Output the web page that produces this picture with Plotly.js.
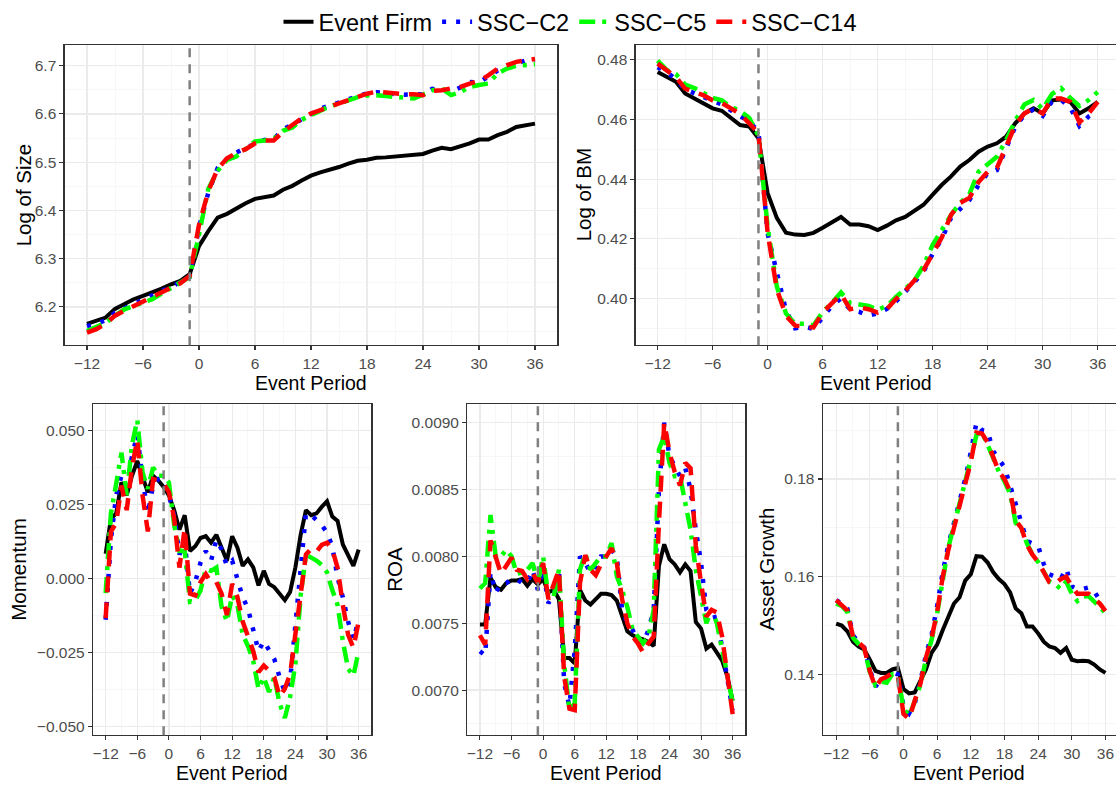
<!DOCTYPE html>
<html>
<head>
<meta charset="utf-8">
<script src="https://cdn.plot.ly/plotly-3.0.1.min.js"></script>
<style>
html,body{margin:0;padding:0;background:#fff;}
#chart{width:1116px;height:785px;}
</style>
</head>
<body>
<div id="chart"></div>
<script>
// ---------------- data ----------------
const eventPeriod = [-12,-11,-10,-9,-8,-7,-6,-5,-4,-3,-2,-1,0,1,2,3,4,5,6,7,8,9,10,11,12,13,14,15,16,17,18,19,20,21,22,23,24,25,26,27,28,29,30,31,32,33,34,35,36];
const xTickVals = [-12,-6,0,6,12,18,24,30,36];
const seriesNames = ["Event Firm","SSC\u2212C2","SSC\u2212C5","SSC\u2212C14"];
const panelTitles = ["Log of Size","Log of BM","Momentum","ROA","Asset Growth"];
const xTitle = "Event Period";

const sizeFirm = [6.165,6.171,6.178,6.196,6.206,6.216,6.223,6.230,6.238,6.247,6.254,6.268,
  6.326,6.357,6.385,6.393,6.405,6.415,6.424,6.428,6.431,6.443,
  6.451,6.462,6.472,6.479,6.484,6.490,6.497,6.503,6.505,6.509,
  6.510,6.512,6.512,6.514,6.517,6.524,6.530,6.527,6.532,6.539,
  6.547,6.547,6.556,6.563,6.573,6.576,6.580];
const sizeC2 = [6.160,6.165,6.172,6.188,6.197,6.206,6.214,6.222,6.232,6.242,6.251,6.262,
  6.365,6.437,6.488,6.507,6.520,6.530,6.537,6.546,6.548,6.568,
  6.578,6.590,6.600,6.611,6.617,6.623,6.630,6.637,6.643,6.645,
  6.642,6.641,6.640,6.640,6.641,6.652,6.650,6.646,6.655,6.666,
  6.665,6.678,6.690,6.697,6.705,6.711,6.712];
const sizeC5 = [6.150,6.158,6.167,6.182,6.195,6.202,6.210,6.216,6.228,6.240,6.250,6.262,
  6.350,6.445,6.482,6.505,6.512,6.528,6.543,6.545,6.548,6.565,
  6.572,6.588,6.598,6.608,6.616,6.621,6.628,6.635,6.638,6.639,
  6.637,6.635,6.634,6.632,6.640,6.649,6.653,6.639,6.645,6.656,
  6.660,6.663,6.684,6.694,6.700,6.702,6.703];
const sizeC14 = [6.147,6.154,6.165,6.182,6.192,6.202,6.211,6.220,6.230,6.240,6.249,6.264,
  6.370,6.440,6.486,6.508,6.519,6.527,6.539,6.545,6.545,6.563,
  6.577,6.591,6.601,6.609,6.615,6.622,6.629,6.637,6.642,6.646,
  6.644,6.642,6.641,6.641,6.639,6.648,6.649,6.653,6.656,6.663,
  6.668,6.680,6.694,6.701,6.708,6.711,6.714];

const bmFirm = [0.4759,0.4742,0.4726,0.4687,0.4670,0.4653,0.4637,0.4629,0.4603,0.4581,0.4576,0.4537,
  0.4353,0.4270,0.4220,0.4214,0.4213,0.4220,0.4237,0.4256,0.4273,0.4248,
  0.4248,0.4242,0.4229,0.4244,0.4262,0.4273,0.4292,0.4314,0.4348,0.4381,
  0.4409,0.4442,0.4464,0.4492,0.4509,0.4520,0.4542,0.4587,0.4620,0.4637,
  0.4620,0.4664,0.4667,0.4659,0.4620,0.4637,0.4659];
const bmC2 = [0.4775,0.4758,0.4735,0.4700,0.4688,0.4675,0.4660,0.4650,0.4630,0.4610,0.4592,0.4560,
  0.4218,0.4087,0.3960,0.3900,0.3905,0.3898,0.3935,0.3975,0.4000,0.3963,
  0.3955,0.3942,0.3950,0.3965,0.3990,0.4020,0.4055,0.4090,0.4150,0.4200,
  0.4270,0.4300,0.4330,0.4380,0.4420,0.4430,0.4500,0.4575,0.4615,0.4633,
  0.4612,0.4660,0.4665,0.4640,0.4578,0.4610,0.4628];
const bmC5 = [0.4797,0.4765,0.4752,0.4717,0.4705,0.4690,0.4672,0.4664,0.4642,0.4628,0.4605,0.4545,
  0.4240,0.4040,0.3950,0.3915,0.3915,0.3910,0.3955,0.3985,0.4020,0.3985,
  0.3980,0.3975,0.3962,0.3975,0.4005,0.4035,0.4060,0.4110,0.4180,0.4230,
  0.4280,0.4320,0.4350,0.4425,0.4450,0.4475,0.4530,0.4595,0.4650,0.4665,
  0.4635,0.4685,0.4705,0.4672,0.4645,0.4665,0.4692];
const bmC14 = [0.4787,0.4764,0.4742,0.4703,0.4692,0.4681,0.4664,0.4655,0.4637,0.4618,0.4587,0.4553,
  0.4220,0.4031,0.3942,0.3909,0.3907,0.3903,0.3953,0.3981,0.4014,0.3964,
  0.3970,0.3964,0.3953,0.3964,0.3998,0.4026,0.4060,0.4095,0.4150,0.4205,
  0.4280,0.4320,0.4337,0.4390,0.4425,0.4437,0.4509,0.4581,0.4620,0.4637,
  0.4620,0.4670,0.4670,0.4659,0.4590,0.4620,0.4659];

const momFirm = [0.0083,0.0202,0.0219,0.0324,0.0280,0.0346,0.0396,0.0340,0.0290,0.0346,0.0330,0.0308,
  0.0280,0.0230,0.0164,0.0213,0.0092,0.0108,0.0136,0.0142,0.0120,0.0147,
  0.0103,0.0059,0.0142,0.0103,0.0042,0.0064,0.0037,-0.0024,0.0025,-0.0019,
  -0.0030,-0.0052,-0.0074,-0.0046,0.0037,0.0147,0.0230,0.0213,0.0219,0.0241,
  0.0260,0.0208,0.0194,0.0114,0.0081,0.0042,0.0097];
const momC2 = [-0.0140,0.0130,0.0280,0.0346,0.0313,0.0413,0.0485,0.0335,0.0219,0.0313,0.0335,0.0335,
  0.0280,0.0213,0.0080,0.0125,-0.0052,-0.0013,0.0053,0.0092,0.0059,0.0130,
  0.0097,0.0042,0.0059,0.0002,-0.0064,-0.0102,-0.0168,-0.0246,-0.0212,-0.0246,
  -0.0273,-0.0334,-0.0384,-0.0345,-0.0168,0.0031,0.0219,0.0213,0.0197,0.0180,
  0.0153,0.0108,0.0002,-0.0064,-0.0146,-0.0207,-0.0140];
const momC5 = [-0.0050,0.0219,0.0319,0.0424,0.0280,0.0451,0.0534,0.0357,0.0302,0.0374,0.0346,0.0346,
  0.0324,0.0180,0.0092,0.0092,-0.0080,-0.0075,-0.0041,0.0031,0.0025,0.0036,
  -0.0096,-0.0146,-0.0058,-0.0091,-0.0190,-0.0229,-0.0279,-0.0373,-0.0334,-0.0384,
  -0.0334,-0.0423,-0.0472,-0.0400,-0.0290,-0.0058,0.0080,0.0070,0.0060,0.0045,
  0.0020,-0.0040,-0.0090,-0.0212,-0.0306,-0.0329,-0.0246];
const momC14 = [-0.0135,0.0158,0.0186,0.0313,0.0230,0.0374,0.0468,0.0280,0.0158,0.0335,0.0330,0.0319,
  0.0291,0.0202,0.0036,0.0169,-0.0052,-0.0058,-0.0013,0.0014,-0.0013,-0.0013,
  -0.0052,-0.0124,-0.0019,-0.0063,-0.0146,-0.0201,-0.0246,-0.0317,-0.0295,-0.0312,
  -0.0334,-0.0400,-0.0373,-0.0323,-0.0190,-0.0060,0.0080,0.0100,0.0090,0.0113,
  0.0120,0.0097,0.0036,-0.0090,-0.0190,-0.0235,-0.0146];

const roaFirm = [0.00749,0.00749,0.00784,0.00777,0.00775,0.00780,0.00782,0.00782,0.00783,0.00778,0.00783,0.00779,
  0.00783,0.00773,0.00775,0.00768,0.00724,0.00724,0.00720,0.00775,0.00767,0.00764,
  0.00768,0.00772,0.00772,0.00771,0.00767,0.00756,0.00744,0.00741,0.00739,0.00738,
  0.00736,0.00733,0.00793,0.00809,0.00798,0.00794,0.00788,0.00794,0.00789,0.00751,
  0.00746,0.00731,0.00734,0.00728,0.00722,0.00710,0.00692];
const roaC2 = [0.00729,0.00726,0.00788,0.00773,0.00780,0.00780,0.00783,0.00783,0.00780,0.00780,0.00790,0.00775,
  0.00790,0.00765,0.00770,0.00790,0.00705,0.00688,0.00730,0.00800,0.00795,0.00788,
  0.00790,0.00800,0.00800,0.00805,0.00800,0.00760,0.00750,0.00745,0.00737,0.00735,
  0.00745,0.00760,0.00850,0.00900,0.00875,0.00868,0.00860,0.00866,0.00850,0.00820,
  0.00795,0.00760,0.00754,0.00755,0.00730,0.00710,0.00685];
const roaC5 = [0.00776,0.00780,0.00831,0.00800,0.00800,0.00805,0.00800,0.00787,0.00788,0.00790,0.00795,0.00780,
  0.00800,0.00770,0.00770,0.00790,0.00720,0.00685,0.00690,0.00790,0.00802,0.00790,
  0.00795,0.00800,0.00800,0.00810,0.00785,0.00775,0.00762,0.00745,0.00740,0.00735,
  0.00740,0.00760,0.00880,0.00890,0.00870,0.00860,0.00860,0.00840,0.00820,0.00790,
  0.00770,0.00750,0.00760,0.00750,0.00730,0.00712,0.00690];
const roaC14 = [0.00741,0.00734,0.00812,0.00799,0.00787,0.00793,0.00799,0.00790,0.00789,0.00783,0.00788,0.00780,
  0.00795,0.00768,0.00780,0.00790,0.00710,0.00686,0.00685,0.00780,0.00801,0.00790,
  0.00786,0.00794,0.00800,0.00806,0.00795,0.00768,0.00750,0.00740,0.00735,0.00728,
  0.00735,0.00740,0.00825,0.00900,0.00878,0.00863,0.00853,0.00870,0.00866,0.00808,
  0.00780,0.00755,0.00760,0.00758,0.00740,0.00710,0.00682];

const agFirm = [0.1504,0.1500,0.1488,0.1467,0.1457,0.1451,0.1430,0.1407,0.1403,0.1403,0.1410,0.1413,
  0.1370,0.1361,0.1363,0.1387,0.1410,0.1444,0.1461,0.1491,0.1518,0.1545,
  0.1558,0.1592,0.1605,0.1642,0.1641,0.1629,0.1609,0.1595,0.1585,0.1568,
  0.1535,0.1525,0.1498,0.1498,0.1484,0.1467,0.1457,0.1454,0.1444,0.1454,
  0.1430,0.1427,0.1428,0.1427,0.1420,0.1410,0.1403];
const agC2 = [0.1552,0.1545,0.1535,0.1480,0.1465,0.1455,0.1410,0.1375,0.1390,0.1392,0.1405,0.1400,
  0.1335,0.1320,0.1340,0.1385,0.1440,0.1480,0.1540,0.1610,0.1665,0.1710,
  0.1755,0.1800,0.1855,0.1915,0.1900,0.1898,0.1857,0.1840,0.1824,0.1787,
  0.1750,0.1713,0.1673,0.1668,0.1663,0.1626,0.1605,0.1600,0.1595,0.1617,
  0.1580,0.1575,0.1575,0.1578,0.1570,0.1552,0.1550];
const agC5 = [0.1545,0.1540,0.1528,0.1475,0.1462,0.1452,0.1405,0.1378,0.1385,0.1383,0.1400,0.1398,
  0.1330,0.1315,0.1345,0.1378,0.1430,0.1470,0.1525,0.1600,0.1660,0.1705,
  0.1748,0.1795,0.1840,0.1890,0.1895,0.1870,0.1840,0.1815,0.1795,0.1770,
  0.1710,0.1700,0.1668,0.1645,0.1630,0.1610,0.1590,0.1585,0.1575,0.1590,
  0.1565,0.1550,0.1560,0.1560,0.1550,0.1538,0.1525];
const agC14 = [0.1552,0.1541,0.1531,0.1477,0.1464,0.1454,0.1407,0.1373,0.1390,0.1395,0.1403,0.1397,
  0.1319,0.1309,0.1346,0.1380,0.1434,0.1474,0.1528,0.1600,0.1655,0.1700,
  0.1745,0.1790,0.1835,0.1895,0.1893,0.1875,0.1845,0.1815,0.1800,0.1775,
  0.1715,0.1700,0.1665,0.1645,0.1630,0.1610,0.1589,0.1585,0.1595,0.1600,
  0.1580,0.1565,0.1565,0.1565,0.1555,0.1545,0.1530];

const eventDate = -1;

// ---------------- build ----------------
const W = 1116, H = 785;
const panels = [
  {series:[sizeFirm,sizeC2,sizeC5,sizeC14], px:[64.6,557.4], py:[41.7,343], xr:[-14.4,38.4], yr:[6.1206,6.7419], t0:6.2, dt:0.1, fmt:'.1f', xt:381, yt:23},
  {series:[bmFirm,bmC2,bmC5,bmC14], px:[635.6,1116], py:[41.7,343], xr:[-14.4,37.99], yr:[0.38433,0.48477], t0:0.40, dt:0.02, fmt:'.2f', xt:381, yt:583},
  {series:[momFirm,momC2,momC5,momC14], px:[93,371.3], py:[402.3,735], xr:[-14.4,38.4], yr:[-0.0530,0.05875], t0:0, dt:0.025, fmt:'.3f', xt:null, yt:19},
  {series:[roaFirm,roaC2,roaC5,roaC14], px:[467.3,745.3], py:[402.3,735], xr:[-14.4,38.4], yr:[0.006662,0.009138], t0:0.0070, dt:0.0005, fmt:'.4f', xt:null, yt:395},
  {series:[agFirm,agC2,agC5,agC14], px:[822.7,1116], py:[402.3,735], xr:[-14.4,37.88], yr:[0.12753,0.19531], t0:0.14, dt:0.02, fmt:'.2f', xt:null, yt:767}
];
const styles = [
  {color:'#000000', width:4, dash:'solid'},
  {color:'#0000ff', width:4.5, dash:'4px,10px'},
  {color:'#00ff00', width:4.5, dash:'16px,7px,4px,7px'},
  {color:'#ff0000', width:4.5, dash:'16px,10px'}
];

const traces = [];
const layout = {
  width: W, height: H,
  margin: {l:0, r:0, t:0, b:0},
  paper_bgcolor: '#ffffff',
  plot_bgcolor: '#ffffff',
  font: {family: 'Liberation Sans, Arial, sans-serif', color: '#000000'},
  showlegend: true,
  legend: {orientation:'h', x:570/W, xanchor:'center', y:1-18/H, yanchor:'middle',
           font:{size:23.5, color:'#000000'}, itemwidth:30, tracegroupgap:0, bgcolor:'rgba(0,0,0,0)'},
  shapes: [],
  annotations: []
};

panels.forEach((p, i) => {
  const k = i + 1;
  const xa = 'xaxis' + (k === 1 ? '' : k);
  const ya = 'yaxis' + (k === 1 ? '' : k);
  const xr = 'x' + (k === 1 ? '' : k);
  const yr = 'y' + (k === 1 ? '' : k);
  p.series.forEach((vals, s) => {
    traces.push({
      type: 'scatter', mode: 'lines',
      x: eventPeriod, y: vals,
      xaxis: xr, yaxis: yr,
      name: seriesNames[s], legendgroup: seriesNames[s],
      showlegend: i === 0,
      line: {color: styles[s].color, width: styles[s].width, dash: styles[s].dash},
      hoverinfo: 'skip'
    });
  });
  const common = {
    showline: true, mirror: true, linecolor: '#333333', linewidth: 1.2,
    ticks: 'outside', ticklen: 4, tickcolor: '#333333', tickwidth: 1.1,
    showgrid: true, gridcolor: '#ebebeb', gridwidth: 1.2,
    zeroline: false, fixedrange: true,
    tickfont: {size: 15.5, color: '#4d4d4d'}
  };
  layout[xa] = Object.assign({}, common, {
    domain: [p.px[0]/W, p.px[1]/W], anchor: yr, range: p.xr,
    tickmode: 'array', tickvals: xTickVals,
    minor: {tick0: -12, dtick: 3, showgrid: true, gridcolor: '#f3f3f3', gridwidth: 0.7, ticks: ''}
  });
  layout[ya] = Object.assign({}, common, {
    domain: [1 - p.py[1]/H, 1 - p.py[0]/H], anchor: xr, range: p.yr,
    tickmode: 'linear', tick0: p.t0, dtick: p.dt, tickformat: p.fmt,
    minor: {tick0: p.t0, dtick: p.dt/2, showgrid: true, gridcolor: '#f3f3f3', gridwidth: 0.7, ticks: ''}
  });
  layout.shapes.push({
    type: 'line', xref: xr, yref: yr + ' domain',
    x0: eventDate, x1: eventDate, y0: 0, y1: 1,
    line: {color: '#7f7f7f', width: 2.5, dash: '9px,7px'}, layer: 'above'
  });
  // axis titles
  const xTitleAnn = {
    xref: 'paper', yref: 'paper', x: (p.px[0] + p.px[1]) / 2 / W,
    xanchor: 'center', showarrow: false, borderpad: 0,
    text: xTitle, font: {size: 19.5, color: '#000000'}
  };
  if (p.xt === null) { xTitleAnn.y = 0; xTitleAnn.yanchor = 'bottom'; }
  else { xTitleAnn.y = 1 - p.xt / H; xTitleAnn.yanchor = 'middle'; }
  layout.annotations.push(xTitleAnn);
  layout.annotations.push({
    xref: 'paper', yref: 'paper', x: p.yt / W, y: 1 - (p.py[0] + p.py[1]) / 2 / H,
    xanchor: 'center', yanchor: 'middle', showarrow: false, textangle: -90, borderpad: 0,
    text: panelTitles[i], font: {size: 20.5, color: '#000000'}
  });
});

Plotly.newPlot('chart', traces, layout, {staticPlot: true, displayModeBar: false});
</script>
</body>
</html>
